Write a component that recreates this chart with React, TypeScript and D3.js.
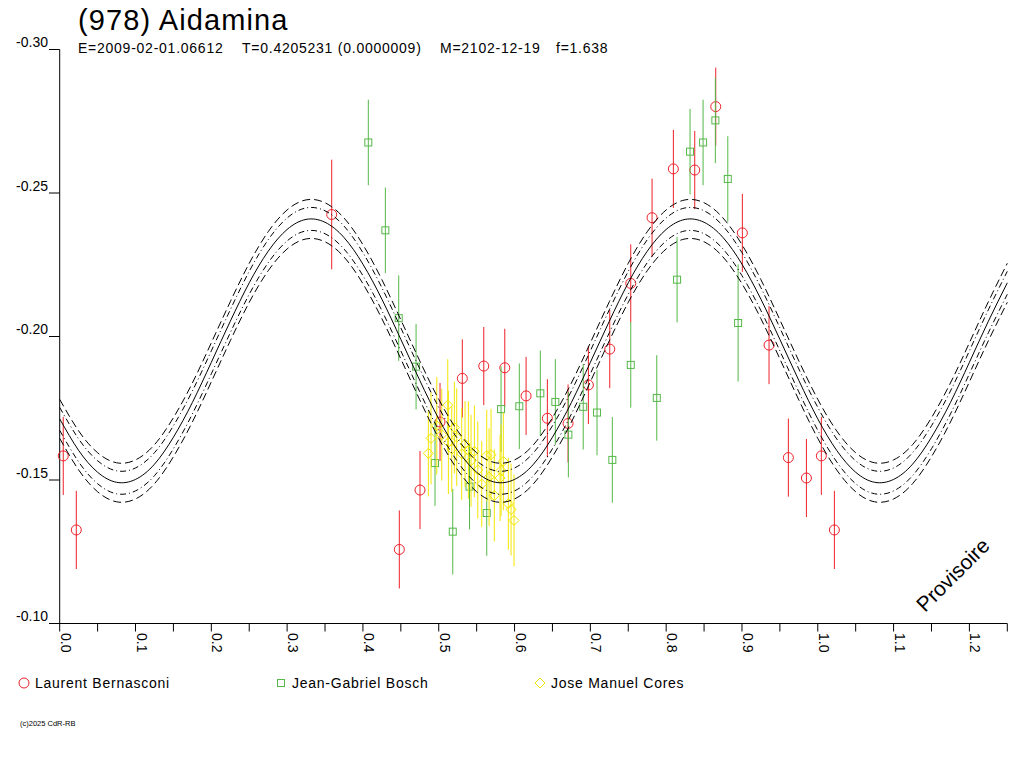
import React from 'react';
import * as d3 from 'd3';

// fitted lightcurve
const fitPhase = [
  0.0, 0.025, 0.05, 0.075, 0.1, 0.125, 0.15, 0.175, 0.2, 0.225, 0.25, 0.275, 0.3, 0.325, 0.35, 0.375, 0.4,
  0.425, 0.45, 0.475, 0.5, 0.525, 0.55, 0.575, 0.6, 0.625, 0.65, 0.675, 0.7, 0.725, 0.75, 0.775, 0.8,
  0.825, 0.85, 0.875, 0.9, 0.925, 0.95, 0.975, 1.0, 1.025, 1.05, 1.075, 1.1, 1.125, 1.15, 1.175, 1.2,
  1.225, 1.25,
];
const fitMag = [
  -0.1713, -0.1603, -0.1527, -0.1492, -0.1502, -0.1555, -0.1649, -0.177, -0.191, -0.2053, -0.2187,
  -0.2297, -0.2373, -0.2408, -0.2398, -0.2345, -0.2252, -0.213, -0.199, -0.1847, -0.1713, -0.1603,
  -0.1527, -0.1492, -0.1502, -0.1555, -0.1649, -0.177, -0.191, -0.2053, -0.2187, -0.2297, -0.2373,
  -0.2408, -0.2398, -0.2345, -0.2252, -0.213, -0.199, -0.1847, -0.1713, -0.1603, -0.1527, -0.1492,
  -0.1502, -0.1555, -0.1649, -0.177, -0.191, -0.2053, -0.2187,
];
const bandInner = 0.004;
const bandOuter = 0.0068;

// Laurent Bernasconi
const bernasconiPhase = [
  0.0047, 0.0219, 0.3588, 0.448, 0.4753, 0.5017, 0.5311, 0.5594, 0.5871, 0.6152, 0.6433, 0.6706,
  0.6974, 0.7256, 0.7533, 0.7814, 0.8095, 0.8377, 0.8654, 0.9005, 0.9357, 0.9612, 0.985,
];
const bernasconiMag = [
  -0.1584, -0.1326, -0.2425, -0.1258, -0.1465, -0.1702, -0.1854, -0.1897, -0.1891, -0.1793, -0.1715,
  -0.1697, -0.1831, -0.1956, -0.2185, -0.2414, -0.2584, -0.258, -0.2801, -0.2361, -0.197, -0.1578,
  -0.1507,
];
const bernasconiErr = [
  0.0136, 0.0136, 0.0191, 0.0136, 0.0136, 0.0136, 0.0136, 0.0136, 0.0136, 0.0136, 0.0136, 0.0136,
  0.0136, 0.0136, 0.0136, 0.0136, 0.0136, 0.0136, 0.0136, 0.0136, 0.0136, 0.0136, 0.0136,
];

// Jean-Gabriel Bosch
const boschPhase = [
  0.4071, 0.4296, 0.4472, 0.4701, 0.4951, 0.5185, 0.5406, 0.5633, 0.5822, 0.6063, 0.634, 0.6538,
  0.671, 0.6906, 0.7088, 0.729, 0.7533, 0.7876, 0.8144, 0.8315, 0.8487, 0.8649, 0.8813, 0.8949,
];
const boschMag = [
  -0.2676, -0.237, -0.2064, -0.1895, -0.1559, -0.132, -0.1477, -0.1385, -0.1747, -0.1757, -0.1802,
  -0.1772, -0.1658, -0.1755, -0.1735, -0.157, -0.1901, -0.1786, -0.2198, -0.2644, -0.2676, -0.2753,
  -0.2549, -0.2047,
];
const boschErr = [
  0.0149, 0.0149, 0.0149, 0.0149, 0.0149, 0.0149, 0.0149, 0.0149, 0.0149, 0.0149, 0.0149, 0.0149,
  0.0149, 0.0149, 0.0149, 0.0149, 0.0149, 0.0149, 0.0149, 0.0149, 0.0149, 0.0149, 0.0149, 0.0204,
];

// Jose Manuel Cores
const coresPhase = [
  0.4863, 0.4898, 0.4974, 0.504, 0.5119, 0.5127, 0.5172, 0.5206, 0.5237, 0.5303, 0.5347, 0.5391,
  0.5426, 0.547, 0.5515, 0.5567, 0.5633, 0.5664, 0.569, 0.5733, 0.5809, 0.5822, 0.5852, 0.5918,
  0.5954, 0.5993,
];
const coresMag = [
  -0.1593, -0.1645, -0.1689, -0.1658, -0.1761, -0.1631, -0.1608, -0.1683, -0.1649, -0.1591, -0.1625,
  -0.1604, -0.1567, -0.16, -0.1535, -0.1486, -0.1585, -0.151, -0.1588, -0.1446, -0.1507, -0.1533,
  -0.1565, -0.1417, -0.1397, -0.1359,
];
const coresErr = [
  0.015, 0.016, 0.017, 0.016, 0.016, 0.018, 0.015, 0.016, 0.017, 0.016, 0.015, 0.017, 0.016, 0.016,
  0.017, 0.015, 0.016, 0.017, 0.016, 0.016, 0.015, 0.016, 0.017, 0.016, 0.016, 0.016,
];

const xTicks = [
  0, 0.05, 0.1, 0.15, 0.2, 0.25, 0.3, 0.35, 0.4, 0.45, 0.5, 0.55, 0.6, 0.65, 0.7, 0.75, 0.8, 0.85, 0.9,
  0.95, 1.0, 1.05, 1.1, 1.15, 1.2, 1.25,
];
const xLabels = ['0.0', '0.1', '0.2', '0.3', '0.4', '0.5', '0.6', '0.7', '0.8', '0.9', '1.0', '1.1', '1.2'];
const yTicks = [-0.3, -0.25, -0.2, -0.15, -0.1];
const yLabels = ['-0.30', '-0.25', '-0.20', '-0.15', '-0.10'];

const title = '(978) Aidamina';
const infoParts = ['E=2009-02-01.06612', 'T=0.4205231 (0.0000009)', 'M=2102-12-19', 'f=1.638'];
const observers = ['Laurent Bernasconi', 'Jean-Gabriel Bosch', 'Jose Manuel Cores'];

const RED = '#ee2028';
const GREEN = '#55b848';
const YELLOW = '#f2e600';
const FONT = '"Liberation Sans", Arial, sans-serif';

const x = d3.scaleLinear().domain([0, 1.25]).range([59.7, 1007.3]);
const y = d3.scaleLinear().domain([-0.3, -0.1]).range([49.5, 623.5]);

type Pt = { phase: number; mag: number; err: number };

const toPoints = (ph: number[], mg: number[], er: number[]): Pt[] => {
  const pts = ph.map((p, i) => ({ phase: p, mag: mg[i], err: er[i] }));
  // phases repeat after 1.0
  const wrap = pts.filter((p) => p.phase + 1 <= 1.25).map((p) => ({ ...p, phase: p.phase + 1 }));
  return [...pts, ...wrap];
};

const red = toPoints(bernasconiPhase, bernasconiMag, bernasconiErr);
const green = toPoints(boschPhase, boschMag, boschErr);
const yellow = toPoints(coresPhase, coresMag, coresErr);

const fitLine = (off: number) =>
  d3
    .line<number>()
    .x((_, i) => x(fitPhase[i]))
    .y((m) => y(m + off))
    .curve(d3.curveNatural)(fitMag) || '';

const ErrBars = ({ pts, color }: { pts: Pt[]; color: string }) => (
  <g stroke={color} strokeWidth={1}>
    {pts.map((p, i) => (
      <line key={i} x1={x(p.phase)} x2={x(p.phase)} y1={y(p.mag - p.err)} y2={y(p.mag + p.err)} />
    ))}
  </g>
);

const Circle = ({ cx, cy, color }: { cx: number; cy: number; color: string }) => (
  <circle cx={cx} cy={cy} r={5} fill="none" stroke={color} strokeWidth={1} />
);
const Square = ({ cx, cy, color }: { cx: number; cy: number; color: string }) => (
  <rect x={cx - 3.5} y={cy - 3.5} width={7} height={7} fill="none" stroke={color} strokeWidth={1} />
);
const Diamond = ({ cx, cy, color }: { cx: number; cy: number; color: string }) => (
  <path d={`M${cx},${cy - 5}L${cx + 5},${cy}L${cx},${cy + 5}L${cx - 5},${cy}Z`} fill="none" stroke={color} strokeWidth={1} />
);

export default function App() {
  const infoX = [78, 242, 440, 556];
  const legendX = [24, 281, 540];
  const legendMarks = [Circle, Square, Diamond];
  const legendColors = [RED, GREEN, YELLOW];

  return (
    <svg
      width={1024}
      height={768}
      style={{ position: 'absolute', left: 0, top: 0, background: '#fff' }}
      fontFamily={FONT}
    >
      <rect width={1024} height={768} fill="#fff" />
      <text x={78} y={30} fontSize={29} letterSpacing={1.1} fill="#000">{title}</text>
      {infoParts.map((t, i) => (
        <text key={t} x={infoX[i]} y={53} fontSize={14} letterSpacing={0.75} fill="#000">{t}</text>
      ))}

      {/* axes */}
      <g stroke="#000" strokeWidth={1} fill="none">
        <line x1={x(0)} x2={x(0)} y1={y(-0.3)} y2={y(-0.1)} />
        <line x1={49} x2={x(1.25)} y1={y(-0.1)} y2={y(-0.1)} />
        {yTicks.map((t) => (
          <line key={t} x1={49} x2={x(0)} y1={y(t)} y2={y(t)} />
        ))}
        {xTicks.map((t) => (
          <line key={t} x1={x(t)} x2={x(t)} y1={y(-0.1)} y2={y(-0.1) + 8} />
        ))}
      </g>
      {yTicks.map((t, i) => (
        <text key={t} x={48} y={y(t) - 2.5} fontSize={14} textAnchor="end" fill="#000">{yLabels[i]}</text>
      ))}
      {xLabels.map((l, i) => {
        const px = x(i / 10) + 1;
        return (
          <text key={l} x={px} y={633} fontSize={14} fill="#000" transform={`rotate(90 ${px} 633)`}>{l}</text>
        );
      })}

      {/* observations */}
      <ErrBars pts={red} color={RED} />
      {red.map((p, i) => <Circle key={i} cx={x(p.phase)} cy={y(p.mag)} color={RED} />)}
      <ErrBars pts={green} color={GREEN} />
      {green.map((p, i) => <Square key={i} cx={x(p.phase)} cy={y(p.mag)} color={GREEN} />)}
      <ErrBars pts={yellow} color={YELLOW} />
      {yellow.map((p, i) => <Diamond key={i} cx={x(p.phase)} cy={y(p.mag)} color={YELLOW} />)}

      {/* fit and uncertainty bands */}
      <g fill="none" stroke="#000" strokeWidth={1}>
        <path d={fitLine(0)} />
        <path d={fitLine(-bandInner)} strokeDasharray="6,3,1,3" />
        <path d={fitLine(bandInner)} strokeDasharray="6,3,1,3" />
        <path d={fitLine(-bandOuter)} strokeDasharray="8,4" />
        <path d={fitLine(bandOuter)} strokeDasharray="8,4" />
      </g>

      <text x={925} y={613} fontSize={21} fill="#000" transform="rotate(-45 925 613)">Provisoire</text>

      {/* legend */}
      {observers.map((name, i) => {
        const Mark = legendMarks[i];
        return (
          <g key={name}>
            <Mark cx={legendX[i]} cy={683} color={legendColors[i]} />
            <text x={legendX[i] + 11} y={688} fontSize={14} letterSpacing={0.75} fill="#000">{name}</text>
          </g>
        );
      })}
      <text x={20} y={726} fontSize={7.5} fill="#000">(c)2025 CdR-RB</text>
    </svg>
  );
}
